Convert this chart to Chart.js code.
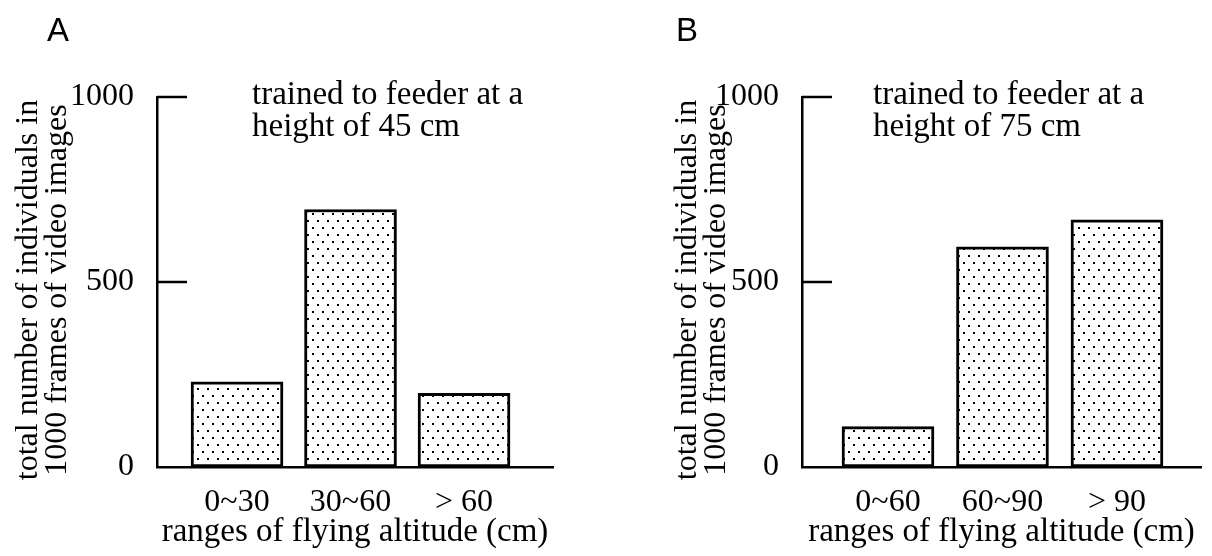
<!DOCTYPE html>
<html><head><meta charset="utf-8">
<script src="https://cdn.jsdelivr.net/npm/chart.js@4.4.1/dist/chart.umd.min.js"></script>
<style>
html,body{margin:0;padding:0;background:#fff;}
#wrap{position:relative;width:1212px;height:556px;overflow:hidden;background:#fff;}
canvas{position:absolute;top:0;}
.lbl{position:absolute;font-family:"Liberation Sans",Arial,sans-serif;font-size:33px;line-height:32px;color:#000;}
.note{position:absolute;font-family:"Liberation Serif","Times New Roman",serif;font-size:33px;line-height:32px;color:#000;white-space:nowrap;}
</style></head><body>
<div id="wrap">
<canvas id="cA" width="606" height="556" style="left:0;width:606px;height:556px"></canvas>
<canvas id="cB" width="606" height="556" style="left:606px;width:606px;height:556px"></canvas>
<div class="lbl" style="left:47px;top:14px">A</div>
<div class="lbl" style="left:676px;top:14px">B</div>
<div class="note" style="left:252px;top:77px">trained to feeder at a<br>height of 45 cm</div>
<div class="note" style="left:873px;top:77px">trained to feeder at a<br>height of 75 cm</div>
</div>
<script>
// ---- data ----
const positions = [1, 2, 3];
const categoriesA = ['0~30', '30~60', '> 60'];
const valuesA = [230, 696, 199];
const categoriesB = ['0~60', '60~90', '> 90'];
const valuesB = [109, 595, 668];
const yTicks = [0, 500, 1000];
const xTitle = 'ranges of flying altitude (cm)';
const yTitle = ['total number of individuals in  ', '1000 frames of video images  '];

const SERIF = '"Liberation Serif", "Times New Roman", serif';

function dotPattern() {
  const c = document.createElement('canvas');
  c.width = 10; c.height = 14;
  const g = c.getContext('2d');
  g.fillStyle = '#fff'; g.fillRect(0, 0, 10, 14);
  g.fillStyle = '#000';
  g.fillRect(2, 3, 2, 2);
  g.fillRect(7, 10, 2, 2);
  return g.createPattern(c, 'repeat');
}

const inwardTicks = {
  id: 'inwardTicks',
  afterDraw(chart) {
    const ys = chart.scales.y, a = chart.chartArea, ctx = chart.ctx;
    ctx.save();
    ctx.strokeStyle = '#000';
    ctx.lineWidth = 2.5;
    yTicks.filter(v => v > 0).forEach(v => {
      const py = ys.getPixelForValue(v);
      ctx.beginPath();
      ctx.moveTo(a.left, py);
      ctx.lineTo(a.left + 30, py);
      ctx.stroke();
    });
    ctx.restore();
  }
};

function makeChart(id, cats, vals, cfg) {
  return new Chart(document.getElementById(id), {
    type: 'bar',
    data: {
      datasets: [{
        data: positions.map((p, i) => ({ x: p, y: vals[i] })),
        backgroundColor: dotPattern(),
        borderColor: '#000',
        borderWidth: 3,
        borderSkipped: false,
        barThickness: 92
      }]
    },
    options: {
      responsive: false,
      animation: false,
      devicePixelRatio: 1,
      events: [],
      layout: { padding: { left: 0, top: 97, right: cfg.padRight, bottom: 0 } },
      plugins: { legend: { display: false }, tooltip: { enabled: false } },
      scales: {
        x: {
          type: 'linear',
          min: cfg.xmin, max: cfg.xmax,
          offset: false,
          grid: { display: false },
          border: { display: true, color: '#000', width: 2.5 },
          afterBuildTicks: s => { s.ticks = positions.map(v => ({ value: v })); },
          ticks: {
            callback: v => cats[positions.indexOf(v)],
            font: { family: SERIF, size: 32 },
            color: '#000', padding: 8, maxRotation: 0, autoSkip: false
          },
          title: {
            display: true, text: xTitle, color: '#000',
            font: { family: SERIF, size: 33 },
            padding: { top: 0, bottom: 4 }
          },
          afterFit: s => { s.height = 89; }
        },
        y: {
          min: 0, max: 1000,
          grid: { display: false },
          border: { display: true, color: '#000', width: 2.5 },
          afterBuildTicks: s => { s.ticks = yTicks.map(v => ({ value: v })); },
          ticks: {
            callback: v => String(v),
            font: { family: SERIF, size: 32 }, color: '#000', padding: 15
          },
          title: {
            display: true, text: yTitle, color: '#000',
            font: { family: SERIF, size: 32, lineHeight: '29px' },
            padding: { top: cfg.titlePad, bottom: 0 }
          },
          afterFit: s => { s.width = cfg.yWidth; }
        }
      }
    },
    plugins: [inwardTicks]
  });
}

makeChart('cA', categoriesA, valuesA, { xmin: 0.295, xmax: 3.784, padRight: 53, yWidth: 157, titlePad: 14.5 });
makeChart('cB', categoriesB, valuesB, { xmin: 0.249, xmax: 3.734, padRight: 11, yWidth: 196, titlePad: 67.5 });
</script>
</body></html>
